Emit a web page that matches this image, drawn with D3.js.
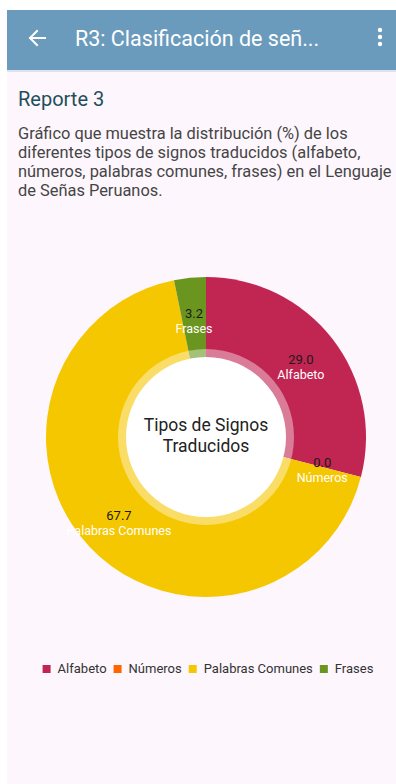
<!DOCTYPE html>
<html>
<head>
<meta charset="utf-8">
<script src="https://cdn.jsdelivr.net/npm/d3@7"></script>
<style>
  html, body { margin: 0; padding: 0; background: #ffffff; }
  svg { display: block; font-family: Roboto, "Noto Sans", sans-serif; }
</style>
</head>
<body>
<svg id="screen" width="396" height="784"></svg>
<script>
// Distribution of translated sign types (%)
const categories = ["Alfabeto", "Números", "Palabras Comunes", "Frases"];
const percentages = [29.0, 0.0, 67.7, 3.2];
const sliceColors = ["#c12552", "#ff6600", "#f5c700", "#6a961f"];

const appTitle = "R3: Clasificación de señ...";
const reportTitle = "Reporte 3";
const descriptionLines = [
  "Gráfico que muestra la distribución (%) de los",
  "diferentes tipos de signos traducidos (alfabeto,",
  "números, palabras comunes, frases) en el Lenguaje",
  "de Señas Peruanos."
];
const centerLines = ["Tipos de Signos", "Traducidos"];

const svg = d3.select("#screen");

// Screen background and app bar
svg.append("rect").attr("x", 7).attr("y", 10).attr("width", 389).attr("height", 774).attr("fill", "#fdf6fd");
svg.append("rect").attr("x", 7).attr("y", 10).attr("width", 389).attr("height", 60).attr("fill", "#6a9bbd");
svg.append("rect").attr("x", 7).attr("y", 70).attr("width", 389).attr("height", 2).attr("fill", "#dbe4ee");

// Back arrow
svg.append("path")
  .attr("d", "M45,38 H30 M37,31 L30,38 L37,45")
  .attr("fill", "none").attr("stroke", "#ffffff").attr("stroke-width", 2)
  .attr("stroke-linecap", "square");

svg.append("text")
  .attr("x", 75).attr("y", 46)
  .attr("fill", "#ffffff").attr("font-size", 21.5)
  .text(appTitle);

// Overflow menu dots
svg.selectAll("circle.menu").data([30, 37, 44]).join("circle")
  .attr("class", "menu").attr("cx", 380).attr("cy", d => d).attr("r", 2.2).attr("fill", "#ffffff");

// Report heading and description
svg.append("text")
  .attr("x", 18).attr("y", 106)
  .attr("fill", "#1f4f5b").attr("font-size", 20)
  .text(reportTitle);

svg.append("g").selectAll("text").data(descriptionLines).join("text")
  .attr("x", 18).attr("y", (d, i) => 139 + i * 19)
  .attr("fill", "#454545").attr("font-size", 16.4)
  .text(d => d);

// Donut chart
const cx = 206, cy = 437, outerR = 160, holeR = 80, ringR = 88, labelR = 120;

const pie = d3.pie().sort(null).value(d => d.value).startAngle(0).endAngle(2 * Math.PI);
const data = categories.map((c, i) => ({ name: c, value: percentages[i], color: sliceColors[i] }));
const arcs = pie(data);

const chart = svg.append("g").attr("transform", `translate(${cx},${cy})`);

const arc = d3.arc().innerRadius(0).outerRadius(outerR);
chart.selectAll("path.slice").data(arcs).join("path")
  .attr("class", "slice")
  .attr("d", arc)
  .attr("fill", d => d.data.color);

// Translucent ring around the hole, then the hole itself
chart.append("circle").attr("r", ringR).attr("fill", "#ffffff").attr("fill-opacity", 0.4);
chart.append("circle").attr("r", holeR).attr("fill", "#ffffff");

// Value and category labels inside each slice
const labelArc = d3.arc().innerRadius(labelR).outerRadius(labelR);
const labels = chart.selectAll("g.label").data(arcs).join("g").attr("class", "label")
  .attr("transform", d => { const [x, y] = labelArc.centroid(d); return `translate(${x},${y})`; });

labels.append("text")
  .attr("text-anchor", "middle")
  .attr("fill", "#1a1a1a").attr("font-size", 13)
  .text(d => d.data.value.toFixed(1));

labels.append("text")
  .attr("y", 15)
  .attr("text-anchor", "middle")
  .attr("fill", "#ffffff").attr("font-size", 12.5)
  .text(d => d.data.name);

// Center caption
chart.selectAll("text.center").data(centerLines).join("text")
  .attr("class", "center")
  .attr("text-anchor", "middle")
  .attr("y", (d, i) => -6 + i * 21)
  .attr("fill", "#222222").attr("font-size", 17.5)
  .text(d => d);

// Legend
const legend = svg.append("g").attr("transform", "translate(0,673)");
const items = legend.selectAll("g").data(data).join("g");
items.append("rect").attr("width", 8).attr("height", 8).attr("y", -8).attr("fill", d => d.color);
items.append("text").attr("x", 15).attr("font-size", 13).attr("fill", "#333333").text(d => d.name);

let x = 0;
const offsets = [];
items.each(function () {
  offsets.push(x);
  const w = this.querySelector("text").getComputedTextLength();
  x += 15 + w + 7;
});
const totalW = x - 7;
const startX = 208 - totalW / 2;
items.attr("transform", (d, i) => `translate(${startX + offsets[i]},0)`);
</script>
</body>
</html>
